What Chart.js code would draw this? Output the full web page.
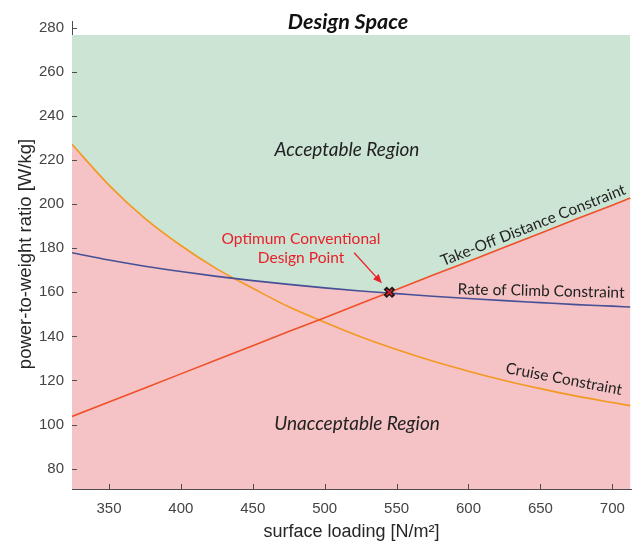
<!DOCTYPE html>
<html>
<head>
<meta charset="utf-8">
<script src="https://cdn.jsdelivr.net/npm/chart.js@4/dist/chart.umd.min.js"></script>
<style>
  html, body { margin: 0; padding: 0; background: #ffffff; }
  #wrap { width: 632px; height: 544px; }
</style>
</head>
<body>
<div id="wrap"><canvas id="c" width="632" height="544"></canvas></div>
<script>
// Surface loading W/S [N/m²] at which each constraint is evaluated
const surfaceLoading   = [324.3, 350, 375, 400, 425, 450, 475, 500, 525, 550, 575, 600, 625, 650, 675, 700, 712.5];
// Required power-to-weight ratio [W/kg] for each constraint
const takeOffDistance  = [103.7, 110.2, 116.6, 123.0, 129.4, 135.8, 142.2, 148.5, 154.9, 161.3, 167.7, 174.0, 180.4, 186.8, 193.2, 199.5, 202.7];
const rateOfClimb      = [177.9, 174.6, 171.8, 169.4, 167.2, 165.3, 163.6, 162.0, 160.6, 159.4, 158.2, 157.2, 156.2, 155.3, 154.4, 153.7, 153.3];
const cruiseSpeed      = [227.1, 208.6, 193.5, 181.2, 170.6, 161.8, 153.4, 146.4, 139.8, 134.0, 128.8, 124.2, 120.0, 116.3, 112.9, 110.0, 108.6];
// Upper bound of the shaded design space
const designSpaceTop   = 276.7;
// Chosen design point
const designPoint      = { x: 545, y: 160 };
// Axis ticks
const xTicks = [350, 400, 450, 500, 550, 600, 650, 700];
const yTicks = [80, 100, 120, 140, 160, 180, 200, 220, 240, 260, 280];

const toPoints = ys => surfaceLoading.map((x, i) => ({ x, y: ys[i] }));

const RED_FILL = 'rgb(245,195,197)';
const GREEN_FILL = 'rgb(204,228,212)';
const AXIS = '#4d4d4d';

// Inward tick marks, MATLAB style
const tickMarks = {
  id: 'tickMarks',
  afterDraw(chart) {
    const { ctx, chartArea: a, scales: { x, y } } = chart;
    ctx.save();
    ctx.strokeStyle = AXIS;
    ctx.lineWidth = 1;
    ctx.beginPath();
    xTicks.forEach(v => {
      const px = Math.round(x.getPixelForValue(v)) + 0.5;
      ctx.moveTo(px, a.bottom); ctx.lineTo(px, a.bottom - 5);
    });
    yTicks.forEach(v => {
      const py = Math.round(y.getPixelForValue(v)) + 0.5;
      ctx.moveTo(a.left, py); ctx.lineTo(a.left + 5, py);
    });
    ctx.stroke();
    ctx.restore();
  }
};

// Title, axis titles, region and constraint labels, arrow
const annotations = {
  id: 'annotations',
  afterDatasetsDraw(chart) {
    const { ctx, chartArea: a, scales: { x, y } } = chart;
    const px = v => x.getPixelForValue(v);
    const py = v => y.getPixelForValue(v);
    ctx.save();

    // chart title
    ctx.fillStyle = '#111';
    ctx.font = 'italic bold 21.5px Lato';
    ctx.textAlign = 'center';
    ctx.textBaseline = 'alphabetic';
    ctx.fillText('Design Space', 348, 29);

    // axis titles
    ctx.fillStyle = '#262626';
    ctx.font = '18px "Liberation Sans"';
    ctx.fillText('surface loading [N/m²]', (a.left + a.right) / 2, 537);
    ctx.save();
    ctx.translate(31, 254);
    ctx.rotate(-Math.PI / 2);
    ctx.font = '18.5px "Liberation Sans"';
    ctx.fillText('power-to-weight ratio [W/kg]', 0, 0);
    ctx.restore();

    // region labels
    ctx.fillStyle = '#222';
    ctx.font = 'italic 19px Lato';
    ctx.fillText('Acceptable Region', 347, 156);
    ctx.fillText('Unacceptable Region', 357, 430);

    // constraint labels, laid along their curves
    ctx.font = '15.5px Lato';
    const along = (text, cx, cy, deg) => {
      ctx.save();
      ctx.translate(cx, cy);
      ctx.rotate(deg * Math.PI / 180);
      ctx.fillText(text, 0, 0);
      ctx.restore();
    };
    along('Take-Off Distance Constraint', 535, 230, -21.6);
    along('Rate of Climb Constraint', 541, 296, 1.2);
    along('Cruise Constraint', 563, 384, 10.7);

    // design point callout
    ctx.fillStyle = 'rgb(232,32,42)';
    ctx.font = '15.5px Lato';
    ctx.fillText('Optimum Conventional', 301, 244);
    ctx.fillText('Design Point', 301, 263);

    // arrow toward the design point
    const x0 = px(520.5), y0 = py(177.9), x1 = px(539.8), y1 = py(164.1);
    const ang = Math.atan2(y1 - y0, x1 - x0);
    const head = 9, half = 3.8;
    ctx.strokeStyle = 'rgb(232,32,42)';
    ctx.lineWidth = 1.3;
    ctx.beginPath();
    ctx.moveTo(x0, y0);
    ctx.lineTo(x1 - head * Math.cos(ang), y1 - head * Math.sin(ang));
    ctx.stroke();
    ctx.beginPath();
    ctx.moveTo(x1, y1);
    ctx.lineTo(x1 - head * Math.cos(ang) + half * Math.sin(ang), y1 - head * Math.sin(ang) - half * Math.cos(ang));
    ctx.lineTo(x1 - head * Math.cos(ang) - half * Math.sin(ang), y1 - head * Math.sin(ang) + half * Math.cos(ang));
    ctx.closePath();
    ctx.fill();

    ctx.restore();
  }
};

const curve = (label, ys, color, smooth) => ({
  label,
  data: toPoints(ys),
  borderColor: color,
  borderWidth: 1.6,
  backgroundColor: RED_FILL,
  fill: 'start',
  pointRadius: 0,
  tension: 0,
  cubicInterpolationMode: smooth ? 'monotone' : 'default'
});

new Chart(document.getElementById('c'), {
  type: 'line',
  data: {
    datasets: [
      {
        label: 'Design point (inner)',
        data: [designPoint],
        showLine: false,
        pointStyle: 'crossRot',
        pointRadius: 4,
        borderColor: 'rgb(220,30,40)',
        borderWidth: 1.6,
        fill: false
      },
      {
        label: 'Design point',
        data: [designPoint],
        showLine: false,
        pointStyle: 'crossRot',
        pointRadius: 6,
        borderColor: '#1a1a1a',
        borderWidth: 4.5,
        fill: false
      },
      curve('Take-Off Distance Constraint', takeOffDistance, 'rgb(240,80,40)', false),
      curve('Rate of Climb Constraint', rateOfClimb, 'rgb(70,80,150)', true),
      curve('Cruise Constraint', cruiseSpeed, 'rgb(243,152,32)', true),
      {
        label: 'Design space',
        data: surfaceLoading.map(x => ({ x, y: designSpaceTop })),
        borderWidth: 0,
        borderColor: 'rgba(0,0,0,0)',
        backgroundColor: GREEN_FILL,
        fill: 'start',
        pointRadius: 0
      }
    ]
  },
  options: {
    responsive: false,
    animation: false,
    devicePixelRatio: 1,
    layout: { autoPadding: false, padding: { top: 21, right: 1, left: 0, bottom: 0 } },
    plugins: {
      legend: { display: false },
      tooltip: { enabled: false },
      title: { display: false },
      filler: { drawTime: 'beforeDatasetsDraw' }
    },
    scales: {
      x: {
        type: 'linear',
        min: 324.3,
        max: 713,
        grid: { display: true, drawOnChartArea: false, drawTicks: true, tickLength: 9, color: 'rgba(0,0,0,0)' },
        border: { display: true, color: AXIS, width: 1 },
        ticks: { color: '#444', font: { family: 'Liberation Sans', size: 15 }, padding: 2, maxRotation: 0, minRotation: 0 },
        afterBuildTicks: s => { s.ticks = xTicks.map(v => ({ value: v })); },
        afterFit: s => { s.height = 55; s.paddingLeft = 0; s.paddingRight = 0; }
      },
      y: {
        type: 'linear',
        min: 70.8,
        max: 283,
        grid: { display: true, drawOnChartArea: false, drawTicks: true, tickLength: 6, color: 'rgba(0,0,0,0)' },
        border: { display: true, color: AXIS, width: 1 },
        ticks: { color: '#444', font: { family: 'Liberation Sans', size: 15 }, padding: 2 },
        afterBuildTicks: s => { s.ticks = yTicks.map(v => ({ value: v })); },
        afterFit: s => { s.width = 72; s.paddingTop = 0; s.paddingBottom = 0; }
      }
    }
  },
  plugins: [tickMarks, annotations]
});
</script>
</body>
</html>
